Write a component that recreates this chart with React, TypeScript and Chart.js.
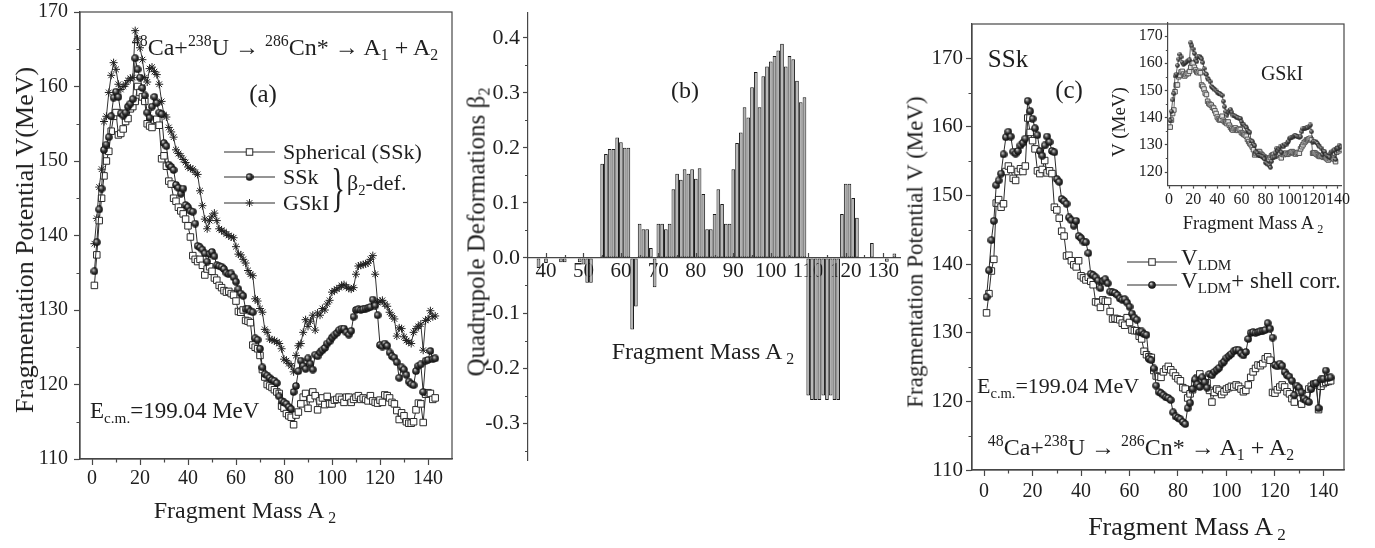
import React, { useEffect, useRef } from 'react';
import { Chart, registerables } from 'chart.js';

Chart.register(...registerables);

const FONT = '"Liberation Serif", "Times New Roman", Times, serif';
const INK = '#1e1e1e';
const AXIS = '#474747';
const LINE = '#2a2a2a';

// ---------- data ----------
const massA2 = [
  1, 2, 3, 4, 5, 6, 7, 8, 9, 10,
  11, 12, 13, 14, 15, 16, 17, 18, 19, 20,
  21, 22, 23, 24, 25, 26, 27, 28, 29, 30,
  31, 32, 33, 34, 35, 36, 37, 38, 39, 40,
  41, 42, 43, 44, 45, 46, 47, 48, 49, 50,
  51, 52, 53, 54, 55, 56, 57, 58, 59, 60,
  61, 62, 63, 64, 65, 66, 67, 68, 69, 70,
  71, 72, 73, 74, 75, 76, 77, 78, 79, 80,
  81, 82, 83, 84, 85, 86, 87, 88, 89, 90,
  91, 92, 93, 94, 95, 96, 97, 98, 99, 100,
  101, 102, 103, 104, 105, 106, 107, 108, 109, 110,
  111, 112, 113, 114, 115, 116, 117, 118, 119, 120,
  121, 122, 123, 124, 125, 126, 127, 128, 129, 130,
  131, 132, 133, 134, 135, 136, 137, 138, 139, 140,
  141, 142, 143,
];

// (a) spherical fragments, SSk
const vSpherical = [
  133.3, 137.4, 142.0, 145.0, 148.0, 150.0, 151.3, 154.0, 156.0, 156.5,
  153.5, 153.7, 154.3, 155.3, 155.7, 157.0, 157.3, 158.0, 160.0, 159.2,
  158.6, 158.0, 155.0, 154.7, 154.5, 155.5, 155.6, 154.8, 150.3, 150.7,
  149.3, 147.3, 146.9, 145.0, 144.6, 143.8, 143.3, 142.9, 142.2, 141.3,
  139.8, 137.3, 136.8, 136.5, 136.8, 136.0, 134.7, 135.5, 135.8, 135.2,
  134.3, 134.0, 133.3, 133.0, 132.6, 132.4, 132.5, 132.2, 132.0, 131.2,
  129.8, 129.7, 130.0, 128.6, 128.5, 128.3, 125.3, 125.0, 124.8, 123.9,
  122.0, 121.0, 120.0, 119.8, 119.6, 119.3, 119.0, 118.8, 117.1, 116.8,
  116.1, 115.8, 115.6, 114.6, 115.9, 116.3, 117.4, 118.3, 118.8, 116.8,
  118.1, 119.0, 118.5, 116.6, 117.8, 118.2, 117.3, 118.4, 117.4, 117.4,
  117.9, 118.0, 118.3, 118.0, 117.6, 118.3, 118.3, 117.6, 118.0, 118.3,
  118.5, 118.0, 118.2, 118.0, 117.8, 118.5, 117.8, 117.6, 117.5, 117.9,
  117.6, 118.6, 118.5, 118.2, 117.6, 117.4, 116.5, 115.3, 116.2, 115.8,
  115.0, 114.8, 114.8, 115.0, 116.6, 117.5, 117.4, 114.9, 118.7, 118.9,
  118.8, 118.0, 118.2,
];

// beta2-deformed SSk (V_LDM + shell corr.)
const vSSk = [
  135.2, 139.1, 143.5, 146.3, 151.5, 152.2, 153.2, 156.0, 158.5, 159.3,
  158.6, 156.4, 156.1, 156.5, 157.3, 157.7, 158.3, 163.8, 162.3, 161.2,
  159.8, 158.8, 156.5, 155.8, 157.3, 158.6, 157.8, 156.5, 156.3, 152.4,
  152.0, 149.5, 149.2, 148.8, 146.8, 146.4, 145.6, 146.3, 144.1, 143.8,
  143.3, 143.2, 141.6, 138.6, 138.4, 138.1, 137.6, 136.5, 137.5, 137.8,
  137.2, 136.0, 135.9, 135.8, 135.5, 135.0, 134.8, 134.9, 134.4, 133.8,
  132.8, 132.2, 131.9, 130.1, 130.2, 129.8, 129.7, 126.2, 126.0, 124.8,
  122.3, 121.4, 121.2, 120.9, 120.6, 120.5, 120.2, 118.4, 117.8, 117.6,
  117.4, 117.0, 116.7, 119.0, 119.8, 121.8, 123.2, 122.5, 122.1, 123.5,
  122.8, 122.0, 124.0, 123.8, 124.3, 124.6, 124.9, 125.5, 125.8, 126.3,
  126.6, 126.9, 127.3, 127.5, 127.5, 127.0, 126.7, 127.2, 129.1, 130.0,
  130.1, 130.0, 130.1, 130.2, 130.3, 130.4, 131.4, 130.6, 129.3, 125.3,
  125.1, 125.5, 125.2, 124.3, 123.8, 123.6, 123.0, 120.9, 122.3, 122.0,
  121.3, 120.4, 120.1, 119.9, 121.8, 122.5, 122.7, 119.0, 123.2, 123.3,
  124.5, 123.4, 123.5,
];

// beta2-deformed GSkI (V_LDM + shell corr.)
const vGSkI = [
  138.9, 142.3, 146.5, 148.9, 155.3, 156.0, 159.2, 161.5, 163.2, 162.3,
  160.3, 159.6, 160.0, 160.3, 160.8, 161.1, 161.2, 167.5, 166.4, 165.2,
  163.6, 161.2, 160.6, 162.4, 162.6, 162.0, 161.6, 160.3, 158.0, 156.2,
  155.9, 154.5, 153.9, 153.2, 151.5, 151.0, 150.7, 150.2, 149.8, 149.2,
  149.0, 148.9, 148.5, 148.2, 146.0, 144.0, 142.2, 140.9, 142.0, 142.6,
  143.0, 142.0, 140.9, 140.7, 140.5, 140.2, 140.0, 139.8, 139.7, 138.5,
  137.5, 137.4, 136.8, 136.3, 135.3, 134.8, 134.6, 131.5, 131.2, 130.2,
  129.7, 127.4, 127.0, 126.1, 126.0, 125.9, 125.7, 125.5, 124.8, 123.4,
  123.2, 122.8, 122.5, 121.7, 123.9, 125.2, 125.5, 127.0, 128.7, 127.8,
  128.5, 129.3, 127.3, 129.6, 129.3, 130.2, 130.0, 130.8, 131.3, 132.4,
  132.6, 132.8, 133.0, 133.3, 133.4, 133.1, 132.9, 132.8, 133.0, 134.8,
  135.9, 136.0, 136.1, 136.2, 136.3, 136.8, 137.3, 134.8, 131.0, 131.2,
  131.3, 130.8, 130.5, 129.7, 129.2, 128.8, 126.5, 127.6, 127.5, 126.4,
  125.9, 125.7, 125.5, 127.0, 127.5, 127.8, 128.1, 124.6, 128.6, 128.8,
  129.9, 129.1, 129.2,
];

// (c) V_LDM with SSk
const vLdmSSk = [
  132.9, 135.7, 139.0, 140.7, 148.9, 149.4, 148.3, 148.8, 153.5, 154.3,
  153.8, 152.5, 152.2, 153.5, 153.9, 153.5, 154.3, 161.3, 159.2, 158.0,
  156.8, 153.6, 153.2, 153.8, 155.1, 153.3, 153.6, 153.2, 148.3, 147.9,
  146.7, 144.8, 144.1, 141.2, 141.3, 140.5, 139.9, 139.6, 140.5, 138.3,
  138.0, 137.7, 138.1, 137.5, 137.0, 134.5, 134.4, 133.7, 134.8, 134.6,
  134.6, 133.1, 132.0, 132.1, 132.0, 131.9, 131.4, 131.1, 132.2, 131.5,
  130.4, 130.3, 130.3, 129.5, 129.1, 127.3, 126.8, 126.5, 126.4, 124.5,
  123.7, 123.6, 123.5, 124.3, 124.7, 125.1, 124.6, 124.2, 123.7, 123.3,
  123.0, 122.0, 121.8, 120.5, 121.1, 121.7, 122.6, 123.4, 124.0, 123.2,
  122.6, 122.7, 121.6, 119.9, 121.3, 121.8, 121.6, 121.0, 121.4, 121.8,
  122.0, 122.2, 122.1, 122.4, 122.2, 121.8, 121.4, 121.6, 122.4, 123.5,
  124.3, 124.8, 125.3, 125.2, 125.5, 126.2, 126.5, 126.0, 121.3, 121.2,
  121.7, 122.1, 122.4, 122.1, 121.4, 121.1, 120.4, 119.9, 121.5, 121.3,
  119.6, 120.4, 121.1, 121.8, 122.2, 122.5, 122.4, 118.8, 122.2, 122.6,
  122.8, 122.9, 123.0,
];

// inset: V_LDM with GSkI
const vLdmGSkI = [
  136.5, 139.1, 141.5, 142.8, 149.5, 152.0, 152.0, 155.0, 155.5, 156.8,
  157.0, 156.0, 155.3, 155.8, 156.3, 156.2, 157.0, 158.5, 160.0, 160.0,
  158.5, 157.5, 156.8, 156.5, 157.0, 156.5, 152.0, 151.5, 150.5, 149.0,
  148.5, 146.0, 145.2, 144.8, 144.6, 143.8, 143.5, 142.5, 141.5, 140.2,
  139.5, 139.1, 139.3, 140.5, 139.0, 138.5, 138.2, 137.8, 138.4, 137.2,
  136.4, 135.8, 135.4, 135.9, 136.2, 135.5, 135.3, 135.8, 135.6, 134.5,
  134.2, 133.8, 133.6, 133.2, 132.0, 131.2, 130.5, 130.0, 129.2, 128.2,
  126.3, 126.8, 127.2, 127.5, 127.5, 126.8, 126.3, 125.8, 125.5, 125.2,
  124.8, 124.4, 124.6, 125.3, 126.0, 126.3, 126.5, 125.8, 126.2, 126.9,
  126.5, 126.9, 125.2, 126.6, 126.4, 126.8, 126.9, 126.5, 126.7, 127.0,
  127.3, 127.5, 127.2, 126.8, 126.6, 127.0, 127.2, 126.9, 128.5, 129.3,
  130.0, 130.8, 131.2, 131.8, 131.9, 132.2, 132.4, 131.8, 126.9, 127.1,
  127.0, 126.6, 126.3, 125.9, 125.7, 126.0, 125.8, 125.4, 125.6, 125.2,
  124.8, 124.4, 124.9, 125.5, 125.3, 125.0, 124.6, 123.8, 127.3, 128.7,
  127.8, 128.3, 128.5,
];

// (b) quadrupole deformations
const betaMass = [
  36, 37, 38, 39, 40, 41, 42, 43, 44, 45,
  46, 47, 48, 49, 50, 51, 52, 53, 54, 55,
  56, 57, 58, 59, 60, 61, 62, 63, 64, 65,
  66, 67, 68, 69, 70, 71, 72, 73, 74, 75,
  76, 77, 78, 79, 80, 81, 82, 83, 84, 85,
  86, 87, 88, 89, 90, 91, 92, 93, 94, 95,
  96, 97, 98, 99, 100, 101, 102, 103, 104, 105,
  106, 107, 108, 109, 110, 111, 112, 113, 114, 115,
  116, 117, 118, 119, 120, 121, 122, 123, 124, 125,
  126, 127, 128, 129, 130, 131, 132, 133, 134,
];
const beta2 = [
  0, 0, -0.018, 0, -0.009, 0, 0, 0, -0.008, -0.008,
  0, 0, 0, -0.008, -0.012, -0.045, -0.045, 0, 0, 0.171,
  0.189, 0.198, 0.198, 0.219, 0.21, 0.2, 0.2, -0.13, -0.088, 0.062,
  0.052, 0.052, 0.018, -0.053, 0.062, 0.062, 0.052, 0.062, 0.125, 0.153,
  0.142, 0.161, 0.153, 0.161, 0.144, 0.163, 0.116, 0.052, 0.052, 0.08,
  0.125, 0.098, 0.062, 0.062, 0.161, 0.209, 0.228, 0.274, 0.255, 0.31,
  0.338, 0.274, 0.33, 0.348, 0.357, 0.367, 0.377, 0.389, 0.348, 0.367,
  0.361, 0.322, 0.283, 0.292, -0.25, -0.258, -0.258, -0.258, -0.25, -0.258,
  -0.25, -0.258, -0.258, 0.08, 0.135, 0.135, 0.109, 0.073, 0, 0,
  0, 0.027, 0, 0, 0, -0.007, 0, 0.008, 0,
];

// tick labels
const massTicks = [0, 20, 40, 60, 80, 100, 120, 140];
const massMinor = [10, 30, 50, 70, 90, 110, 130];
const vTicks = [110, 120, 130, 140, 150, 160, 170];
const vMinor = [115, 125, 135, 145, 155, 165];
const insetVTicks = [120, 130, 140, 150, 160, 170];
const insetVMinor = [125, 135, 145, 155, 165];
const betaTicks = [-0.3, -0.2, -0.1, 0, 0.1, 0.2, 0.3, 0.4];
const betaMinor = [-0.35, -0.25, -0.15, -0.05, 0.05, 0.15, 0.25, 0.35];
const betaMassTicks = [40, 50, 60, 70, 80, 90, 100, 110, 120, 130];
const betaMassMinor = [45, 55, 65, 75, 85, 95, 105, 115, 125];

// ---------- helpers ----------
const pts = (xs: number[], ys: number[]) => xs.map((x, i) => ({ x, y: ys[i] }));

function makeBall(d: number, hi: string, mid: string, lo: string) {
  const c = document.createElement('canvas');
  c.width = d;
  c.height = d;
  const g = c.getContext('2d') as CanvasRenderingContext2D;
  const grad = g.createRadialGradient(d * 0.36, d * 0.33, d * 0.04, d / 2, d / 2, d / 2);
  grad.addColorStop(0, hi);
  grad.addColorStop(0.45, mid);
  grad.addColorStop(1, lo);
  g.fillStyle = grad;
  g.beginPath();
  g.arc(d / 2, d / 2, d / 2 - 0.2, 0, Math.PI * 2);
  g.fill();
  return c;
}

function drawMarker(ctx: CanvasRenderingContext2D, s: any, x: number, y: number) {
  if (s.kind === 'square') {
    const h = s.size / 2;
    ctx.fillStyle = '#fff';
    ctx.fillRect(x - h, y - h, s.size, s.size);
    ctx.strokeStyle = LINE;
    ctx.lineWidth = 1;
    ctx.strokeRect(x - h, y - h, s.size, s.size);
  } else if (s.kind === 'ball') {
    ctx.drawImage(s.img, x - s.img.width / 2, y - s.img.height / 2);
  } else if (s.kind === 'star') {
    const r = s.size / 2;
    const d = r * Math.SQRT1_2;
    ctx.strokeStyle = LINE;
    ctx.lineWidth = 1;
    ctx.beginPath();
    ctx.moveTo(x - r, y); ctx.lineTo(x + r, y);
    ctx.moveTo(x, y - r); ctx.lineTo(x, y + r);
    ctx.moveTo(x - d, y - d); ctx.lineTo(x + d, y + d);
    ctx.moveTo(x - d, y + d); ctx.lineTo(x + d, y - d);
    ctx.stroke();
  }
}

function decor(spec: any) {
  return {
    id: 'decor',
    afterDraw(chart: any) {
      const { ctx, chartArea: a, scales } = chart;
      const sx = scales.x;
      const sy = scales.y;
      ctx.save();
      ctx.strokeStyle = AXIS;
      ctx.lineWidth = 1.2;
      if (spec.frame) ctx.strokeRect(a.left, a.top, a.right - a.left, a.bottom - a.top);
      const xBase = spec.xAtZero ? sy.getPixelForValue(0) : a.bottom;
      ctx.beginPath();
      (spec.xTicks || []).forEach((t: any) =>
        t.values.forEach((v: number) => {
          const p = Math.round(sx.getPixelForValue(v)) + 0.5;
          ctx.moveTo(p, xBase);
          ctx.lineTo(p, xBase + t.len);
        })
      );
      (spec.yTicks || []).forEach((t: any) =>
        t.values.forEach((v: number) => {
          const p = Math.round(sy.getPixelForValue(v)) + 0.5;
          ctx.moveTo(a.left, p);
          ctx.lineTo(a.left - t.len, p);
        })
      );
      ctx.stroke();
      (spec.legend || []).forEach((s: any) => {
        ctx.strokeStyle = LINE;
        ctx.lineWidth = 1;
        ctx.beginPath();
        ctx.moveTo(s.x1, s.y);
        ctx.lineTo(s.x2, s.y);
        ctx.stroke();
        drawMarker(ctx, s, (s.x1 + s.x2) / 2, s.y);
      });
      ctx.restore();
    },
  };
}

function linScale(min: number, max: number, ticks: number[], o: any) {
  const ticksOpts: any = {
    font: { family: FONT, size: o.font },
    color: INK,
    padding: o.pad,
    maxRotation: 0,
    autoSkip: false,
  };
  if (o.fmt) ticksOpts.callback = o.fmt;
  const s: any = {
    type: 'linear',
    min,
    max,
    afterBuildTicks: (sc: any) => {
      sc.ticks = ticks.map((v) => ({ value: v }));
    },
    afterFit: (sc: any) => {
      if (o.axis === 'x') sc.height = o.fixed;
      else sc.width = o.fixed;
      sc.paddingTop = 0;
      sc.paddingBottom = 0;
      sc.paddingLeft = 0;
      sc.paddingRight = 0;
    },
    grid: {
      display: true,
      drawOnChartArea: false,
      drawTicks: o.tickLen > 0,
      tickLength: o.tickLen > 0 ? o.tickLen : 0,
      tickColor: AXIS,
      tickWidth: 1.2,
      offset: false,
    },
    border: { display: true, color: AXIS, width: 1.2 },
    ticks: ticksOpts,
  };
  if (o.position !== undefined) s.position = o.position;
  if (o.offset !== undefined) s.offset = o.offset;
  return s;
}

const baseOptions = (padding: any) => ({
  animation: false as const,
  responsive: false,
  maintainAspectRatio: false,
  devicePixelRatio: 1,
  events: [] as any[],
  layout: { padding },
  plugins: { legend: { display: false }, tooltip: { enabled: false }, title: { display: false } },
});

// ---------- text helpers ----------
const Sup = ({ children }: any) => (
  <span style={{ fontSize: '0.66em', position: 'relative', top: '-0.58em' }}>{children}</span>
);
const Sub = ({ children, gap }: any) => (
  <span style={{ fontSize: '0.66em', position: 'relative', top: '0.32em', marginLeft: gap ? '0.25em' : 0 }}>{children}</span>
);

function Label({ x, y, size, rotate, align = 'center', children, transform }: any) {
  const tx = align === 'left' ? '0' : '-50%';
  return (
    <div
      style={{
        position: 'absolute',
        left: x,
        top: y,
        fontFamily: FONT,
        fontSize: size,
        lineHeight: 1,
        whiteSpace: 'nowrap',
        color: INK,
        transform: transform || `translate(${tx}, -50%)${rotate ? ' rotate(-90deg)' : ''}`,
      }}
    >
      {children}
    </div>
  );
}

const Reaction = () => (
  <>
    <Sup>48</Sup>Ca+<Sup>238</Sup>U → <Sup>286</Sup>Cn* → A<Sub>1</Sub> + A<Sub>2</Sub>
  </>
);
const Energy = () => (
  <>
    E<Sub>c.m.</Sub>=199.04 MeV
  </>
);
const MassTitle = () => (
  <>
    Fragment Mass A<Sub gap>2</Sub>
  </>
);

export default function App() {
  const aRef = useRef<HTMLCanvasElement>(null);
  const bRef = useRef<HTMLCanvasElement>(null);
  const cRef = useRef<HTMLCanvasElement>(null);
  const iRef = useRef<HTMLCanvasElement>(null);

  useEffect(() => {
    const ball = makeBall(8, '#d0d0d0', '#3a3a3a', '#050505');
    const smallBall = makeBall(5, '#bbbbbb', '#4a4a4a', '#151515');

    const lineDs = (data: any[], extra: any) => ({
      data,
      borderColor: LINE,
      borderWidth: 1,
      tension: 0,
      fill: false,
      pointBorderColor: LINE,
      pointBorderWidth: 1,
      ...extra,
    });

    // ----- (a) -----
    const chartA = new Chart(aRef.current as HTMLCanvasElement, {
      type: 'line',
      data: {
        datasets: [
          lineDs(pts(massA2, vSSk), { pointStyle: ball, pointRadius: 4 }),
          lineDs(pts(massA2, vSpherical), { pointStyle: 'rect', pointRadius: 4.6, pointBackgroundColor: '#fff' }),
          lineDs(pts(massA2, vGSkI), { pointStyle: 'star', pointRadius: 4, borderColor: '#333', pointBorderColor: '#222' }),
        ],
      },
      options: {
        ...baseOptions({ left: 30, top: 12, right: 8, bottom: 11 }),
        scales: {
          x: linScale(-5, 150, massTicks, { axis: 'x', fixed: 30, font: 20, tickLen: 6, pad: 2 }),
          y: linScale(110, 170, vTicks, { axis: 'y', fixed: 50, font: 20, tickLen: 6, pad: 6 }),
        },
      } as any,
      plugins: [
        decor({
          frame: true,
          xTicks: [{ values: massMinor, len: 3.5 }],
          yTicks: [{ values: vMinor, len: 3.5 }],
          legend: [
            { x1: 224, x2: 275, y: 152, kind: 'square', size: 6.5 },
            { x1: 224, x2: 275, y: 177, kind: 'ball', img: ball },
            { x1: 224, x2: 275, y: 203, kind: 'star', size: 8 },
          ],
        }),
      ],
    } as any);

    // ----- (b) -----
    const chartB = new Chart(bRef.current as HTMLCanvasElement, {
      type: 'bar',
      data: {
        datasets: [
          {
            data: pts(betaMass, beta2),
            backgroundColor: '#b3b3b3',
            borderColor: '#1a1a1a',
            borderWidth: 1,
            borderSkipped: false,
            barPercentage: 0.98,
            categoryPercentage: 1,
          },
        ],
      },
      options: {
        ...baseOptions({ left: 18, top: 13, right: 10, bottom: 20 }),
        scales: {
          x: linScale(35.2, 134.5, betaMassTicks, {
            axis: 'x',
            fixed: 0,
            font: 21,
            tickLen: 0,
            pad: 1,
            position: { y: 0 },
            offset: false,
          }),
          y: linScale(-0.367, 0.445, betaTicks, {
            axis: 'y',
            fixed: 50,
            font: 22,
            tickLen: 5,
            pad: 3,
            fmt: (v: number) => v.toFixed(1),
          }),
        },
      } as any,
      plugins: [
        decor({
          frame: false,
          xAtZero: true,
          xTicks: [
            { values: betaMassTicks, len: -5 },
            { values: betaMassMinor, len: -3 },
          ],
          yTicks: [{ values: betaMinor, len: 3 }],
        }),
      ],
    } as any);

    // ----- (c) -----
    const chartC = new Chart(cRef.current as HTMLCanvasElement, {
      type: 'line',
      data: {
        datasets: [
          lineDs(pts(massA2, vSSk), { pointStyle: ball, pointRadius: 4 }),
          lineDs(pts(massA2, vLdmSSk), { pointStyle: 'rect', pointRadius: 4.6, pointBackgroundColor: '#fff' }),
        ],
      },
      options: {
        ...baseOptions({ left: 22, top: 24, right: 31, bottom: 48 }),
        scales: {
          x: linScale(-5, 148.5, massTicks, { axis: 'x', fixed: 30, font: 20, tickLen: 6, pad: 4 }),
          y: linScale(110, 175, vTicks, { axis: 'y', fixed: 50, font: 21, tickLen: 6, pad: 3 }),
        },
      } as any,
      plugins: [
        decor({
          frame: true,
          xTicks: [{ values: massMinor, len: 3.5 }],
          yTicks: [{ values: vMinor, len: 3.5 }],
          legend: [
            { x1: 227, x2: 277, y: 262, kind: 'square', size: 6.5 },
            { x1: 227, x2: 277, y: 285, kind: 'ball', img: ball },
          ],
        }),
      ],
    } as any);

    // ----- inset (GSkI) -----
    const chartI = new Chart(iRef.current as HTMLCanvasElement, {
      type: 'line',
      data: {
        datasets: [
          lineDs(pts(massA2, vGSkI), { pointStyle: smallBall, pointRadius: 2.5, borderColor: '#333', borderWidth: 0.8 }),
          lineDs(pts(massA2, vLdmGSkI), {
            pointStyle: 'rect',
            pointRadius: 3.2,
            pointBackgroundColor: '#e2e2e2',
            pointBorderColor: '#555',
            borderColor: '#444',
            borderWidth: 0.8,
          }),
        ],
      },
      options: {
        ...baseOptions({ left: 27.8, top: 22.4, right: 18.4, bottom: 40.4 }),
        scales: {
          x: linScale(-1, 143, massTicks, { axis: 'x', fixed: 24, font: 16, tickLen: 3, pad: 2 }),
          y: linScale(115, 175, insetVTicks, { axis: 'y', fixed: 40, font: 16, tickLen: 3, pad: 2 }),
        },
      } as any,
      plugins: [
        decor({
          frame: false,
          xTicks: [{ values: massMinor, len: 3 }],
          yTicks: [{ values: insetVMinor, len: 2 }],
        }),
      ],
    } as any);

    return () => {
      chartA.destroy();
      chartB.destroy();
      chartC.destroy();
      chartI.destroy();
    };
  }, []);

  const cv = (left: number, w: number, h: number) => ({
    position: 'absolute' as const,
    left,
    top: 0,
    width: w,
    height: h,
  });

  return (
    <div
      style={{
        position: 'absolute',
        left: 0,
        top: 0,
        width: 1375,
        height: 548,
        background: '#fff',
        overflow: 'hidden',
      }}
    >
      <canvas ref={aRef} width={460} height={500} style={cv(0, 460, 500)} />
      <canvas ref={bRef} width={450} height={480} style={cv(460, 450, 480)} />
      <canvas ref={cRef} width={475} height={548} style={cv(900, 475, 548)} />
      <canvas ref={iRef} width={260} height={250} style={cv(1100, 260, 250)} />

      {/* panel (a) */}
      <Label x={25} y={240} size={26} rotate>
        Fragmentation Potential V(MeV)
      </Label>
      <Label x={245} y={510} size={24}>
        <MassTitle />
      </Label>
      <Label x={285} y={47} size={24}>
        <Reaction />
      </Label>
      <Label x={263} y={93} size={25}>
        (a)
      </Label>
      <Label x={283} y={152} size={22} align="left">
        Spherical (SSk)
      </Label>
      <Label x={283} y={177} size={22} align="left">
        SSk
      </Label>
      <Label x={283} y={203} size={22} align="left">
        GSkI
      </Label>
      <Label x={338} y={188} size={52} transform="translate(-50%, -50%) scaleX(0.55)">
        {'}'}
      </Label>
      <Label x={347} y={183} size={22} align="left">
        β<Sub>2</Sub>-def.
      </Label>
      <Label x={90} y={410} size={23} align="left">
        <Energy />
      </Label>

      {/* panel (b) */}
      <Label x={476} y={232} size={25} rotate>
        Quadrupole Deformations β<Sub>2</Sub>
      </Label>
      <Label x={703} y={351} size={24}>
        <MassTitle />
      </Label>
      <Label x={685} y={90} size={24}>
        (b)
      </Label>

      {/* panel (c) */}
      <Label x={915} y={252} size={23} rotate>
        Fragmentation Potential V (MeV)
      </Label>
      <Label x={1187} y={527} size={26}>
        <MassTitle />
      </Label>
      <Label x={1008} y={58} size={25}>
        SSk
      </Label>
      <Label x={1069} y={89} size={25}>
        (c)
      </Label>
      <Label x={1181} y={257} size={23} align="left">
        V<Sub>LDM</Sub>
      </Label>
      <Label x={1181} y={280} size={23} align="left">
        V<Sub>LDM</Sub>+ shell corr.
      </Label>
      <Label x={977} y={386} size={22} align="left">
        <Energy />
      </Label>
      <Label x={1141} y={447} size={24}>
        <Reaction />
      </Label>

      {/* inset */}
      <Label x={1118} y={122} size={19} rotate>
        V (MeV)
      </Label>
      <Label x={1253} y={223} size={18.5}>
        <MassTitle />
      </Label>
      <Label x={1282} y={73} size={20}>
        GSkI
      </Label>
    </div>
  );
}
